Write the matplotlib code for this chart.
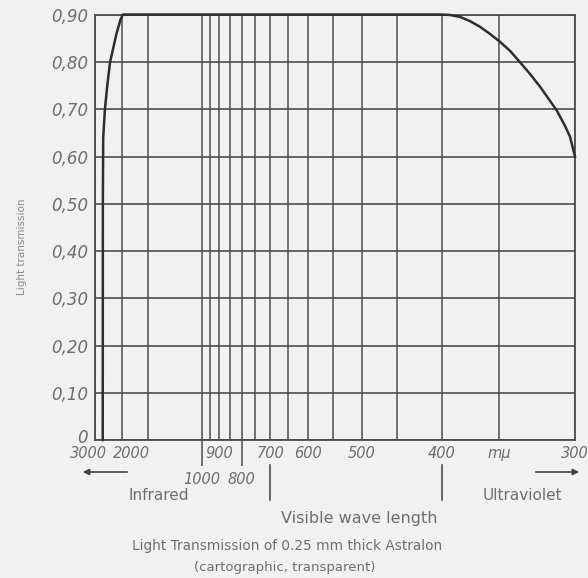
import numpy as np
import matplotlib
matplotlib.use("Agg")
import matplotlib.pyplot as plt
import matplotlib.transforms as mtransforms
from matplotlib.ticker import FixedLocator

# curve (wavelength in m-mu, transmission)
wave = [2620, 2615, 2600, 2530, 2440, 2340, 2140, 2030, 1970,
        1500, 1000, 700, 500, 400,
        391.8, 382.5, 373.5, 365.0, 356.9, 349.0, 341.6, 334.5, 327.6,
        321.0, 314.7, 310.5, 305.7, 302.8, 300]
trans = [0.0, 0.50, 0.64, 0.70, 0.75, 0.80, 0.86, 0.89, 0.901,
         0.901, 0.901, 0.901, 0.901, 0.901,
         0.900, 0.896, 0.887, 0.875, 0.860, 0.843, 0.824, 0.800, 0.775,
         0.748, 0.718, 0.697, 0.665, 0.642, 0.600]

# grid / ticks
grid_waves = [3000, 2000, 1500, 950, 900, 850, 750, 700, 650, 600,
              550, 500, 450, 400, 350, 300]
grid_labels = ["3000", "2000", "", "", "900", "", "", "700", "", "600",
               "", "500", "", "400", "m\u03bc", "300"]
low_waves = [1000, 800]
low_labels = ["1000", "800"]
y_ticks = [0, 0.1, 0.2, 0.3, 0.4, 0.5, 0.6, 0.7, 0.8, 0.9]
y_labels = ["0", "0,10", "0,20", "0,30", "0,40", "0,50", "0,60", "0,70", "0,80", "0,90"]

bg = "#f1f1f1"
gridc = "#4d4d4d"
txtc = "#6e6e6e"
W, H = 588, 578


def fx(px):
    return px / W


def fy(py):
    return 1 - py / H


fig = plt.figure(figsize=(W / 100, H / 100), dpi=100, facecolor=bg)
ax = fig.add_axes([fx(95), fy(440), 480 / W, 425 / H], facecolor=bg)

# wavelength axis is linear in 1/lambda (increasing form, axis then inverted)
ax.set_xscale("function", functions=(lambda x: -1.0 / np.asarray(x, float),
                                     lambda x: -1.0 / np.asarray(x, float)))
ax.set_xlim(3000, 300)
ax.set_ylim(0, 0.9)

ax.xaxis.set_major_locator(FixedLocator(grid_waves))
ax.xaxis.set_minor_locator(FixedLocator(low_waves))
ax.set_xticklabels(grid_labels)
ax.set_xticks(low_waves, low_labels, minor=True)
ax.set_yticks(y_ticks, y_labels)

ax.tick_params(axis="x", which="major", length=0, pad=4, labelsize=10.5,
               labelcolor=txtc)
ax.tick_params(axis="x", which="minor", length=19, width=1.1, color=gridc,
               pad=4, labelsize=10.5, labelcolor=txtc)
ax.tick_params(axis="y", length=0, pad=5, labelsize=12, labelcolor=txtc)
for lab in ax.get_xticklabels(which="both") + ax.get_yticklabels():
    lab.set_fontstyle("italic")

# nudge the crowded labels at the left end like in the print
xlabs = ax.get_xticklabels()
xlabs[0].set_transform(xlabs[0].get_transform() +
                       mtransforms.ScaledTranslation(-7 / 100, 0, fig.dpi_scale_trans))
xlabs[1].set_transform(xlabs[1].get_transform() +
                       mtransforms.ScaledTranslation(10 / 100, 0, fig.dpi_scale_trans))
ylabs = ax.get_yticklabels()
ylabs[0].set_transform(ylabs[0].get_transform() +
                       mtransforms.ScaledTranslation(0, 4 / 100, fig.dpi_scale_trans))

ax.grid(True, which="both", axis="x", color=gridc, lw=1.1)
ax.grid(True, which="major", axis="y", color=gridc, lw=1.2)
for s in ax.spines.values():
    s.set_color(gridc)
    s.set_linewidth(1.3)

ax.plot(wave, trans, color="#2e2e2e", lw=1.8, clip_on=False, zorder=5)

# visible range markers
tr = ax.get_xaxis_transform()
for w in [700, 400]:
    ax.plot([w, w], [-25 / 425, -60 / 425], transform=tr, color=gridc,
            lw=1.2, clip_on=False)

# arrows for infrared / ultraviolet
ax.annotate("", xy=(fx(80), fy(472)), xytext=(fx(130), fy(472)),
            xycoords="figure fraction", textcoords="figure fraction",
            arrowprops=dict(arrowstyle="-|>", color="#444", lw=1.2,
                            mutation_scale=9))
ax.annotate("", xy=(fx(582), fy(472)), xytext=(fx(533), fy(472)),
            xycoords="figure fraction", textcoords="figure fraction",
            arrowprops=dict(arrowstyle="-|>", color="#444", lw=1.2,
                            mutation_scale=9))

fig.text(fx(128), fy(496), "Infrared", fontsize=11, color=txtc, va="center")
fig.text(fx(483), fy(496), "Ultraviolet", fontsize=11, color=txtc, va="center")
fig.text(fx(359), fy(518), "Visible wave length", fontsize=11.5, color=txtc,
         va="center", ha="center")
fig.text(fx(287), fy(546), "Light Transmission of 0.25 mm thick Astralon",
         fontsize=9.8, color=txtc, va="center", ha="center")
fig.text(fx(285), fy(568), "(cartographic, transparent)", fontsize=9.5,
         color=txtc, va="center", ha="center")
fig.text(fx(22), fy(247), "Light transmission", fontsize=7.5, color="#8a8a8a",
         rotation=90, va="center", ha="center")

fig.savefig("out.png", dpi=100, facecolor=bg)
